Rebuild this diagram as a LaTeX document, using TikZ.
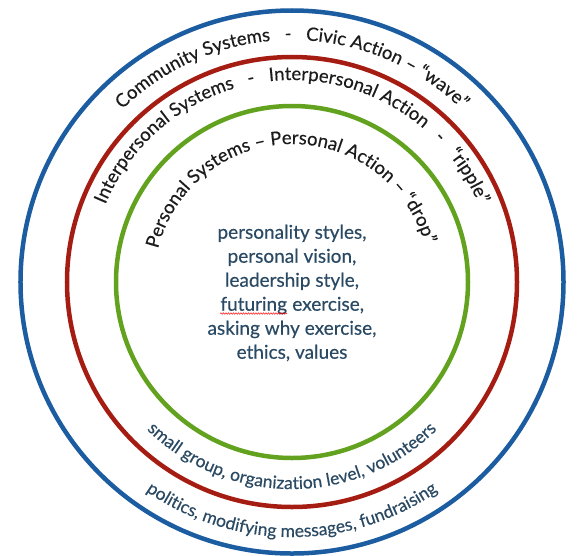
\documentclass[tikz,border=0pt]{standalone}
\usepackage{fontspec}
\setmainfont{Lato}[FakeBold=0.4]
\usetikzlibrary{decorations.text,decorations.pathmorphing}

\definecolor{ringblue}{RGB}{28,92,160}
\definecolor{ringred}{RGB}{165,28,18}
\definecolor{ringgreen}{RGB}{98,162,30}
\definecolor{slatetext}{RGB}{42,74,100}
\definecolor{arctext}{RGB}{28,28,28}

\newcommand\arcfont{\fontsize{18.5}{18.5}\selectfont}
\newcommand\lowfont{\fontsize{17.5}{17.5}\selectfont}
\newcommand\spellwave[1]{\tikz[baseline=(sw.base)]{\node[inner sep=0pt] (sw) {#1};
	\draw[red, line width=0.5pt, decorate, decoration={snake, amplitude=0.7pt, segment length=2.5pt}] ([yshift=-2.8pt]sw.base west) -- ([yshift=-2.8pt]sw.base east);}}

\tikzset{
	ring/.style={line width=4.5pt},
	arclabel/.style={decorate, decoration={text along path, text align=center, text color=arctext, text={|\arcfont|#1}}},
	lowlabel/.style={decorate, decoration={text along path, text align=center, text color=slatetext, text={|\lowfont|#1}}},
}

\begin{document}
\begin{tikzpicture}[x=1pt, y=1pt]
		%%%%% START %%%%%
		\useasboundingbox (-292, -273) rectangle (285, 282);
		
		\draw[ring, color=ringblue] (0, 0) circle (271.5);
		\draw[ring, color=ringred] (0, 0) circle (225);
		\draw[ring, color=ringgreen] (0, 0) circle (176);
		
		% titles over the top of each ring
		\path[arclabel={Community Systems ~~-~~ Civic Action – “wave”}] (180:242) arc[start angle=180, end angle=0, radius=242];
		\path[arclabel={Interpersonal Systems ~~-~~ Interpersonal Action ~~-~~ “ripple”}] (180:202) arc[start angle=180, end angle=0, radius=202];
		\path[arclabel={Personal Systems – Personal Action – “drop”}] (181:138) arc[start angle=181, end angle=1, radius=138];
		
		% examples under the bottom
		\path[lowlabel={small group, organization level, volunteers}] (200:207) arc[start angle=200, end angle=340, radius=207];
		\path[lowlabel={politics, modifying messages, fundraising}] (210:255) arc[start angle=210, end angle=330, radius=255];
		
		\node[align=center, text=slatetext, font=\fontsize{19}{24}\selectfont] (personal) at (0, -11)
			{personality styles,\\ personal vision,\\ leadership style,\\ \spellwave{futuring} exercise,\\ asking why exercise,\\ ethics, values};
		
		%%%%% END %%%%%
	\end{tikzpicture}
\end{document}
